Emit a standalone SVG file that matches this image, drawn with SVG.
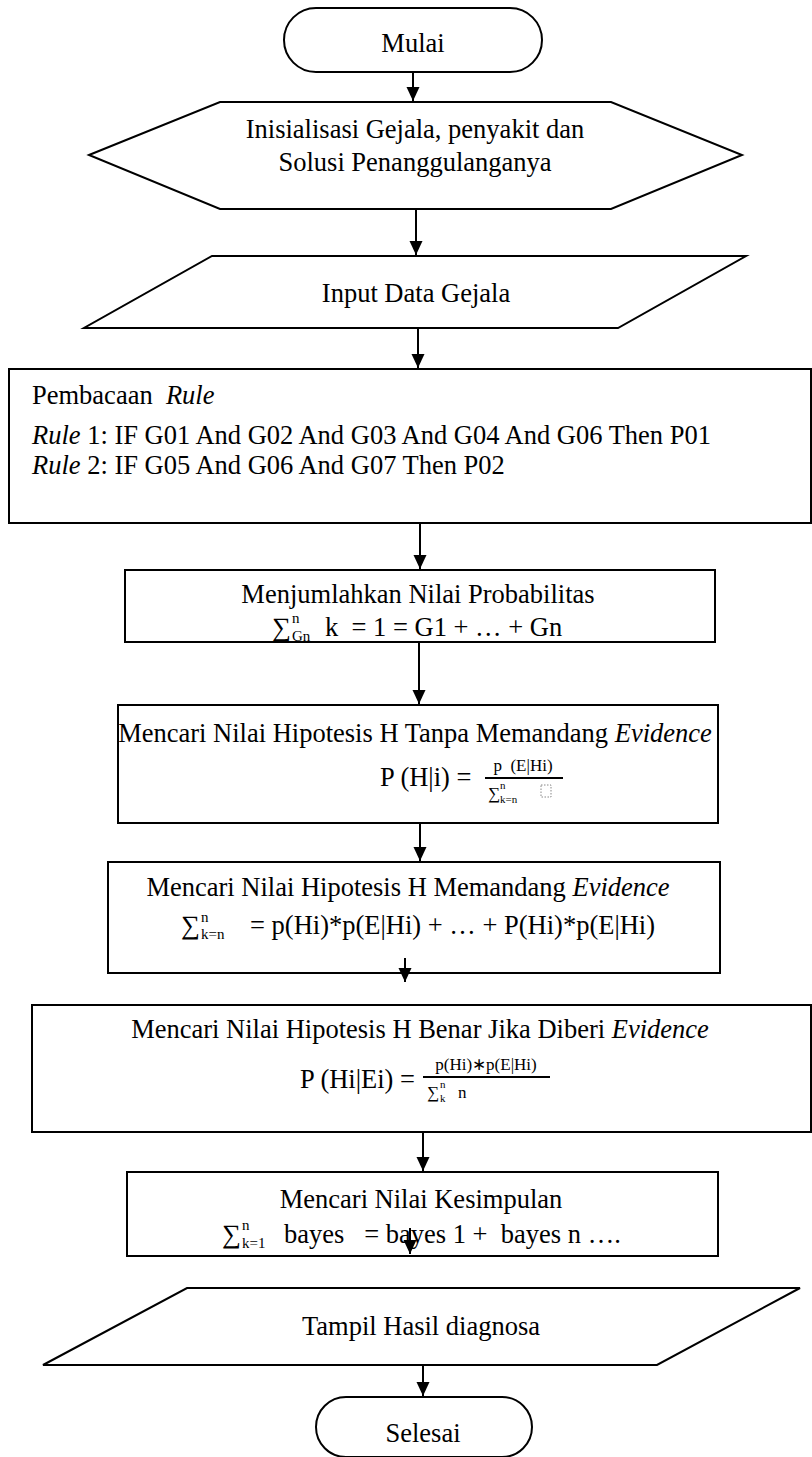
<svg xmlns="http://www.w3.org/2000/svg" width="812" height="1457" viewBox="0 0 812 1457">
<defs>
<style>
.s{fill:#fff;stroke:#000;stroke-width:2}
.t{font-family:"Liberation Serif","Times New Roman",serif;font-size:26.5px;fill:#000;white-space:pre}
.c{text-anchor:middle}
.sm{font-size:15px}
.xs{font-size:11px}
.fr{font-size:17px}
.i{font-style:italic}
.ln{stroke:#000;stroke-width:2;fill:none}
</style>
<marker id="ah" markerUnits="userSpaceOnUse" markerWidth="14" markerHeight="14" viewBox="0 0 14 14" refX="14" refY="7" orient="auto"><path d="M0,0.5 L14,7 L0,13.5 Z" fill="#000"/></marker>
</defs>
<rect width="812" height="1457" fill="#fff"/>
<g id="mulai">
<rect class="s" x="284" y="8" width="258" height="64" rx="32"/>
<text class="t c" x="413" y="52">Mulai</text>
</g>
<g id="inisialisasi">
<polygon class="s" points="89,155 220,102 611,102 742,155 611,209 220,209"/>
<text class="t c" x="415" y="138">Inisialisasi Gejala, penyakit dan</text>
<text class="t c" x="415" y="171">Solusi Penanggulanganya</text>
</g>
<g id="input">
<polygon class="s" points="212,256 746,256 618,328 84,328"/>
<text class="t c" x="416" y="302">Input Data Gejala</text>
</g>
<g id="rule">
<rect class="s" x="9" y="369" width="802" height="154"/>
<text class="t" x="32" y="404">Pembacaan  <tspan class="i">Rule</tspan></text>
<text class="t" x="32" y="444"><tspan class="i">Rule</tspan> 1: IF G01 And G02 And G03 And G04 And G06 Then P01</text>
<text class="t" x="32" y="474"><tspan class="i">Rule</tspan> 2: IF G05 And G06 And G07 Then P02</text>
</g>
<g id="menjumlahkan">
<rect class="s" x="125" y="570" width="590" height="72"/>
<text class="t c" x="418" y="603">Menjumlahkan Nilai Probabilitas</text>
<text class="t" x="272" y="636">∑</text>
<text class="t sm" x="292" y="623">n</text>
<text class="t sm" x="292" y="641">Gn</text>
<text class="t" x="325" y="636">k  = 1 = G1 + … + Gn</text>
</g>
<g id="tanpa">
<rect class="s" x="118" y="705" width="600" height="118"/>
<text class="t c" x="415" y="742">Mencari Nilai Hipotesis H Tanpa Memandang <tspan class="i">Evidence</tspan></text>
<text class="t" x="380" y="786">P (H|i) =</text>
<text class="t fr c" x="523" y="771">p  (E|Hi)</text>
<line class="ln" x1="485" y1="778" x2="563" y2="778"/>
<text class="t fr" x="488" y="799">∑</text>
<text class="t xs" x="500" y="789">n</text>
<text class="t xs" x="500" y="803">k=n</text>
<rect x="541" y="785" width="10" height="12" fill="none" stroke="#888" stroke-width="1" stroke-dasharray="1.5,1.5"/>
</g>
<g id="memandang">
<rect class="s" x="108" y="862" width="612" height="111"/>
<text class="t c" x="408" y="896">Mencari Nilai Hipotesis H Memandang <tspan class="i">Evidence</tspan></text>
<text class="t" x="181" y="934">∑</text>
<text class="t sm" x="201" y="922">n</text>
<text class="t sm" x="201" y="939">k=n</text>
<text class="t" x="250" y="934">= p(Hi)*p(E|Hi) + … + P(Hi)*p(E|Hi)</text>
</g>
<g id="benar">
<rect class="s" x="32" y="1005" width="779" height="127"/>
<text class="t c" x="420" y="1038">Mencari Nilai Hipotesis H Benar Jika Diberi <tspan class="i">Evidence</tspan></text>
<text class="t" x="300" y="1088">P (Hi|Ei) =</text>
<text class="t fr c" x="486" y="1070">p(Hi)∗p(E|Hi)</text>
<line class="ln" x1="423" y1="1077" x2="550" y2="1077"/>
<text class="t fr" x="427" y="1098">∑</text>
<text class="t xs" x="440" y="1088">n</text>
<text class="t xs" x="440" y="1102">k</text>
<text class="t fr" x="458" y="1098">n</text>
</g>
<g id="kesimpulan">
<rect class="s" x="127" y="1172" width="591" height="84"/>
<text class="t c" x="421" y="1208">Mencari Nilai Kesimpulan</text>
<text class="t" x="222" y="1243">∑</text>
<text class="t sm" x="242" y="1230">n</text>
<text class="t sm" x="242" y="1248">k=1</text>
<text class="t" x="284" y="1243">bayes   = bayes 1 +  bayes n ….</text>
</g>
<g id="tampil">
<polygon class="s" points="187,1288 800,1288 657,1365 43,1365"/>
<text class="t c" x="421" y="1335">Tampil Hasil diagnosa</text>
</g>
<g id="selesai">
<rect class="s" x="316" y="1397" width="216" height="60" rx="30"/>
<text class="t c" x="423" y="1442">Selesai</text>
</g>
<g id="connectors">
<line class="ln" x1="413" y1="72" x2="413" y2="101" marker-end="url(#ah)"/>
<line class="ln" x1="416" y1="209" x2="416" y2="255" marker-end="url(#ah)"/>
<line class="ln" x1="418" y1="329" x2="418" y2="368" marker-end="url(#ah)"/>
<line class="ln" x1="420" y1="523" x2="420" y2="569" marker-end="url(#ah)"/>
<line class="ln" x1="419" y1="642" x2="419" y2="704" marker-end="url(#ah)"/>
<line class="ln" x1="420" y1="823" x2="420" y2="861" marker-end="url(#ah)"/>
<line class="ln" x1="405" y1="958" x2="405" y2="982" marker-end="url(#ah)"/>
<line class="ln" x1="423" y1="1132" x2="423" y2="1171" marker-end="url(#ah)"/>
<line class="ln" x1="410" y1="1228" x2="410" y2="1254" marker-end="url(#ah)"/>
<line class="ln" x1="423" y1="1365" x2="423" y2="1396" marker-end="url(#ah)"/>
</g>
</svg>
